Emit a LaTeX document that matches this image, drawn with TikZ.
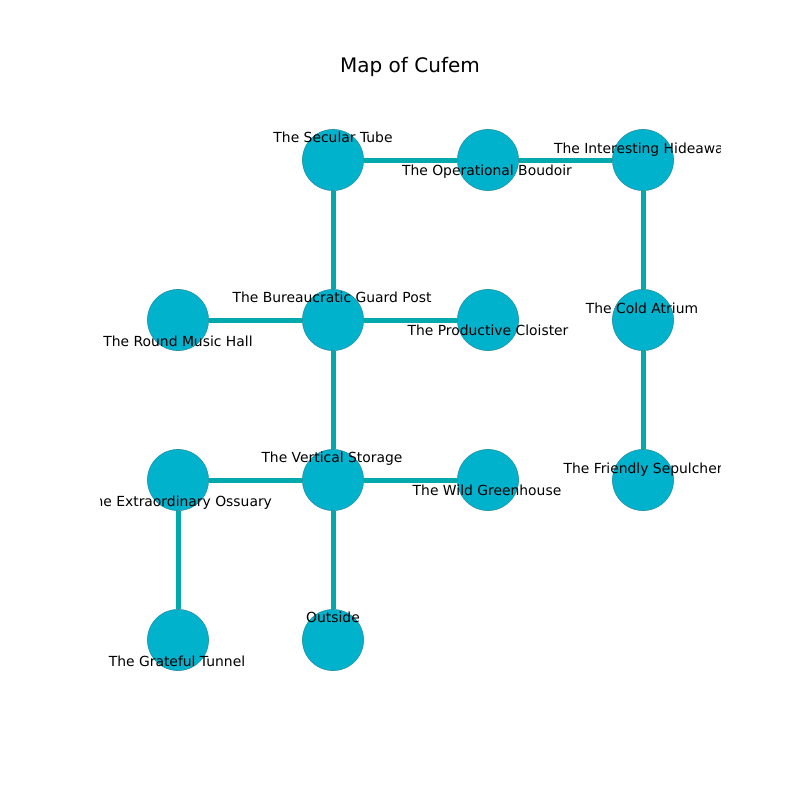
\documentclass[tikz,border=0pt]{standalone}
\usepackage{fontspec}
\setmainfont{DejaVu Sans}
\usetikzlibrary{backgrounds}
\definecolor{roomfill}{HTML}{00B2CC}
\definecolor{roomedge}{HTML}{1E8FA0}
\definecolor{corridor}{HTML}{00A9AB}
\tikzset{
	room/.style={circle, draw=roomedge, line width=0.4bp, fill=roomfill, minimum size=44bp, inner sep=0pt},
	lbl/.style={font=\fontsize{10bp}{12bp}\selectfont, inner sep=0pt, text height=7.3bp, text depth=0pt},
	link/.style={corridor, line width=3.6bp}
}
\begin{document}
\begin{tikzpicture}[x=0.72bp, y=-0.72bp]
		\useasboundingbox (0,0) rectangle (800,800);
		\node[font=\fontsize{14.4bp}{17bp}\selectfont] (title) at (410,67) {Map of Cufem};
		\begin{scope}
		\clip (100,96) rectangle (720,712);
		%Rooms
		\node[room] (st) at (333,160) {};
		\node[room] (ob) at (488,160) {};
		\node[room] (ih) at (643,160) {};
		\node[room] (rm) at (178,320) {};
		\node[room] (bg) at (333,320) {};
		\node[room] (pc) at (488,320) {};
		\node[room] (ca) at (643,320) {};
		\node[room] (eo) at (178,480) {};
		\node[room] (vs) at (333,480) {};
		\node[room] (wg) at (488,480) {};
		\node[room] (fs) at (643,480) {};
		\node[room] (gt) at (178,640) {};
		\node[room] (out) at (333,640) {};

		%Corridors
		\begin{pgfonlayer}{background}
		\draw[link] (st) -- (ob);
		\draw[link] (ob) -- (ih);
		\draw[link] (st) -- (bg);
		\draw[link] (rm) -- (bg);
		\draw[link] (bg) -- (pc);
		\draw[link] (ih) -- (ca);
		\draw[link] (ca) -- (fs);
		\draw[link] (bg) -- (vs);
		\draw[link] (eo) -- (vs);
		\draw[link] (vs) -- (wg);
		\draw[link] (vs) -- (out);
		\draw[link] (eo) -- (gt);
		\end{pgfonlayer}

		%Names
		\node[lbl] (l_st) at (333,137) {The Secular Tube};
		\node[lbl] (l_ob) at (487,170) {The Operational Boudoir};
		\node[lbl] (l_ih) at (643,148) {The Interesting Hideaway};
		\node[lbl] (l_rm) at (178,341) {The Round Music Hall};
		\node[lbl] (l_bg) at (332,297) {The Bureaucratic Guard Post};
		\node[lbl] (l_pc) at (488,330) {The Productive Cloister};
		\node[lbl] (l_ca) at (642,308) {The Cold Atrium};
		\node[lbl] (l_eo) at (179,501) {The Extraordinary Ossuary};
		\node[lbl] (l_vs) at (332,457) {The Vertical Storage};
		\node[lbl] (l_wg) at (487,490) {The Wild Greenhouse};
		\node[lbl] (l_fs) at (643,468) {The Friendly Sepulcher};
		\node[lbl] (l_gt) at (177,661) {The Grateful Tunnel};
		\node[lbl] (l_out) at (333,617) {Outside};
		\end{scope}
	\end{tikzpicture}
\end{document}
